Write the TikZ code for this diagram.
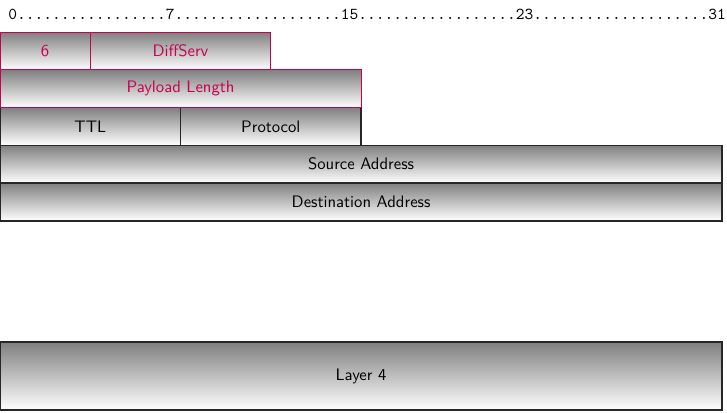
\documentclass[tikz,border=0pt]{standalone}
\usepackage{tikz}
\usetikzlibrary{positioning}
\definecolor{fieldred}{RGB}{200,0,80}
\newcommand{\bitw}{13.54pt}
\tikzset{
  field/.style={
      draw=black!85,
      line width=0.9pt,
      top color=gray,
      bottom color=white,
      rectangle,
      outer sep=0pt,
      inner sep=0pt,
      minimum height=22.65pt,
      align=center,
      font=\sffamily
  },
  redfield/.style={
      field,
      draw=fieldred,
      line width=0.6pt,
      text=fieldred
  },
  bits/.style={minimum width=#1*\bitw}
}
\begin{document}
\begin{tikzpicture}
      \useasboundingbox (0,0) rectangle (436.2pt,-247.2pt);
      % Bit ruler
      \node (ruler) [anchor=west, inner sep=0pt, font=\ttfamily] at (4.8pt,-8.4pt)
        {0.................7...................15..................23....................31};
      % Black rows
      \node (ttl) [field, bits=8, anchor=north west] at (0,-64.5pt) {TTL};
      \node (protocol) [field, bits=8, right=0pt of ttl] {Protocol};
      \node (source) [field, bits=32, below right=0pt and 0pt of ttl.south west] {Source Address};
      \node (dest) [field, bits=32, below right=0pt and 0pt of source.south west] {Destination Address};
      \node (layer4) [field, bits=32, minimum height=40.8pt, below right=72.75pt and 0pt of dest.south west] {Layer 4};
      % Red rows
      \node (payload) [redfield, bits=16, above right=0pt and 0pt of ttl.north west] {Payload Length};
      \node (version) [redfield, bits=4, above right=0pt and 0pt of payload.north west] {6};
      \node (diffserv) [redfield, bits=8, right=0pt of version] {DiffServ};
\end{tikzpicture}
\end{document}
